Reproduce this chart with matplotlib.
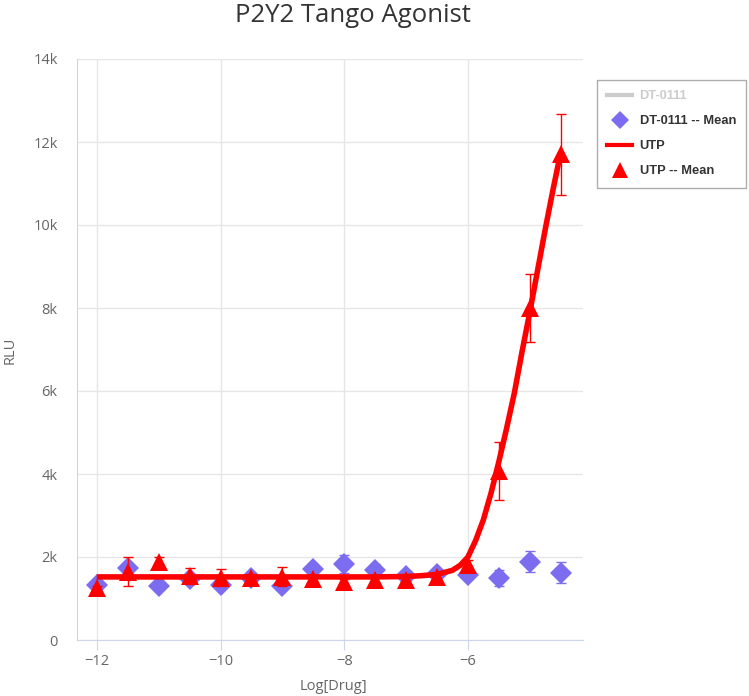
import matplotlib
matplotlib.use('Agg')
from matplotlib import pyplot as plt
from matplotlib.lines import Line2D

# log concentrations
log_drug = [-12, -11.5, -11, -10.5, -10, -9.5, -9, -8.5, -8, -7.5, -7, -6.5, -6, -5.5, -5, -4.5]

# DT-0111 means and errors (RLU)
dt_mean = [1330, 1730, 1300, 1460, 1330, 1500, 1290, 1700, 1830, 1690, 1540, 1580, 1560, 1490, 1890, 1620]
dt_err = [60, 120, 60, 80, 80, 60, 70, 110, 220, 140, 70, 70, 80, 200, 250, 250]

# UTP means and errors (RLU)
utp_mean = [1250, 1650, 1880, 1540, 1500, 1500, 1530, 1460, 1400, 1450, 1450, 1510, 1800, 4080, 7990, 11700]
utp_err = [60, 350, 130, 200, 200, 100, 230, 100, 80, 100, 90, 90, 130, 700, 820, 980]

# UTP fitted curve
curve_x = [-12, -7.5, -7.0, -6.75, -6.5, -6.25, -6.125, -6.0, -5.875, -5.75, -5.625, -5.5,
           -5.375, -5.25, -5.125, -5.0, -4.875, -4.75, -4.625, -4.5]
curve_y = [1520, 1520, 1530, 1550, 1580, 1680, 1800, 2000, 2400, 2900, 3550, 4300,
           5100, 5950, 6950, 7900, 8900, 9900, 10850, 11750]

yticks = [0, 2000, 4000, 6000, 8000, 10000, 12000, 14000]
ytick_labels = ['0', '2k', '4k', '6k', '8k', '10k', '12k', '14k']
xticks = [-12, -10, -8, -6]
xtick_labels = ['\u221212', '\u221210', '\u22128', '\u22126']

purple = '#7b6cf0'
red = '#ff0000'
axis_col = '#ccd6eb'
grid_col = '#e6e6e6'
txt_col = '#666666'

fig = plt.figure(figsize=(7.49, 6.96), dpi=100)
ax = fig.add_axes([77/749, 1 - 640/696, (583 - 77)/749, (640 - 59)/696])

ax.errorbar(log_drug, dt_mean, yerr=dt_err, fmt='none', ecolor=purple,
            elinewidth=1, capsize=3.6, capthick=1, zorder=3)
ax.plot(log_drug, dt_mean, linestyle='none', marker='D', markersize=11.5,
        color=purple, markeredgewidth=0, zorder=3)
ax.plot(curve_x, curve_y, color=red, linewidth=4, solid_capstyle='butt', zorder=4)
ax.plot(log_drug, utp_mean, linestyle='none', marker='^', markersize=13,
        color=red, markeredgewidth=0, zorder=5)
ax.errorbar(log_drug, utp_mean, yerr=utp_err, fmt='none', ecolor=red,
            elinewidth=1, capsize=3.6, capthick=1, zorder=6)

ax.set_xlim(-12.32, -4.14)
ax.set_ylim(0, 14000)
ax.set_yticks(yticks)
ax.set_yticklabels(ytick_labels)
ax.set_xticks(xticks)
ax.set_xticklabels(xtick_labels)

ax.grid(True, color=grid_col, linewidth=1)
ax.set_axisbelow(True)
for s in ['top', 'right']:
    ax.spines[s].set_visible(False)
ax.spines['left'].set_color(axis_col)
ax.spines['bottom'].set_color(axis_col)
ax.tick_params(axis='y', length=0, pad=14, labelsize=10.5, labelcolor=txt_col)
ax.tick_params(axis='x', length=7, color=axis_col, pad=3, labelsize=10.5, labelcolor=txt_col)
for lab in ax.get_xticklabels() + ax.get_yticklabels():
    lab.set_family('Open Sans')

fig.text(353/749, 1 - 15/696, 'P2Y2 Tango Agonist', ha='center', va='center',
         fontsize=18.5, color='#333333', family='Open Sans')
fig.text(10/749, 1 - 350/696, 'RLU', rotation=90, ha='center', va='center',
         fontsize=10.5, color=txt_col, family='Open Sans')
fig.text(333/749, 1 - 686/696, 'Log[Drug]', ha='center', va='center',
         fontsize=10.5, color=txt_col, family='Open Sans')

handles = [
    Line2D([], [], color='#cccccc', linewidth=3),
    Line2D([], [], linestyle='none', marker='D', markersize=9, color=purple, markeredgewidth=0),
    Line2D([], [], color=red, linewidth=3),
    Line2D([], [], linestyle='none', marker='^', markersize=11, color=red, markeredgewidth=0),
]
names = ['DT-0111', 'DT-0111 -- Mean', 'UTP', 'UTP -- Mean']
leg = fig.legend(handles, names, loc='upper left', borderaxespad=0,
                 bbox_to_anchor=(597/749, 1 - 80/696), frameon=True, fancybox=False,
                 handlelength=1.9, handletextpad=0.6, labelspacing=1.0,
                 borderpad=0.8, prop={'family': 'Liberation Sans', 'weight': 'bold', 'size': 9.3})
leg.get_frame().set_edgecolor('#999999')
leg.get_frame().set_linewidth(1)
texts = leg.get_texts()
texts[0].set_color('#cccccc')
for t in texts[1:]:
    t.set_color('#333333')

fig.savefig('out.png', dpi=100)
